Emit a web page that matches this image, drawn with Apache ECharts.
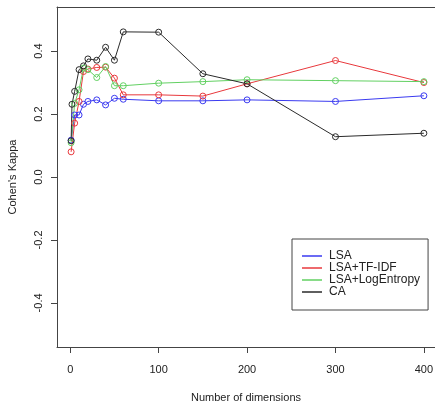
<!DOCTYPE html>
<html>
<head>
<meta charset="utf-8">
<script src="https://cdn.jsdelivr.net/npm/echarts@6/dist/echarts.min.js"></script>
<style>
html,body{margin:0;padding:0;background:#fff;}
#chart{width:435px;height:401px;}
</style>
</head>
<body>
<div id="chart"></div>
<script>
// x values (number of dimensions)
var dims = [1, 5, 10, 15, 20, 30, 40, 50, 60, 100, 150, 200, 300, 400];
var caDims = [1, 2, 5, 10, 15, 20, 30, 40, 50, 60, 100, 150, 200, 300, 400];
// Cohen's Kappa values
var lsa = [0.117, 0.197, 0.197, 0.231, 0.240, 0.245, 0.229, 0.250, 0.247, 0.242, 0.242, 0.245, 0.240, 0.258];
var lsaTfIdf = [0.080, 0.171, 0.240, 0.335, 0.343, 0.348, 0.349, 0.314, 0.261, 0.261, 0.257, 0.296, 0.370, 0.300];
var lsaLogEntropy = [0.109, 0.234, 0.277, 0.346, 0.341, 0.316, 0.351, 0.290, 0.290, 0.298, 0.303, 0.309, 0.306, 0.303];
var ca = [0.115, 0.231, 0.272, 0.341, 0.353, 0.375, 0.371, 0.412, 0.371, 0.461, 0.460, 0.328, 0.296, 0.128, 0.139];
// tick labels
var xTicks = [0, 100, 200, 300, 400];
var yTicks = [-0.4, -0.2, 0.0, 0.2, 0.4];
var seriesNames = ['LSA', 'LSA+TF-IDF', 'LSA+LogEntropy', 'CA'];

var colors = ['#3a3af0', '#e8383c', '#62d062', '#2a2a2a'];
var xs = [dims, dims, dims, caDims];
var ys = [lsa, lsaTfIdf, lsaLogEntropy, ca];

function pairs(x, y) { return x.map(function (v, i) { return [v, y[i]]; }); }

var series = seriesNames.map(function (n, k) {
  return {
    name: n,
    type: 'line',
    xAxisIndex: 0,
    yAxisIndex: 0,
    data: pairs(xs[k], ys[k]),
    symbol: 'circle',
    symbolSize: 6,
    showSymbol: true,
    lineStyle: { color: colors[k], width: 1 },
    itemStyle: { color: 'rgba(0,0,0,0)', borderColor: colors[k], borderWidth: 1 },
    emphasis: { disabled: true },
    animation: false
  };
});

var axisColor = '#444';
var chart = echarts.init(document.getElementById('chart'), null, { renderer: 'canvas' });
chart.setOption({
  animation: false,
  textStyle: { fontFamily: 'Liberation Sans, Arial, sans-serif' },
  grid: { left: 57, top: 7, width: 378, height: 340, show: false,
    outerBounds: { left: -200, right: -200, top: -200, bottom: -200 } },
  xAxis: [{
    type: 'value', min: -14.96, max: 412.57, position: 'bottom',
    name: 'Number of dimensions', nameLocation: 'middle', nameGap: 45,
    nameTextStyle: { fontSize: 11, color: '#222', fontFamily: 'Liberation Sans' },
    axisLine: { show: true, onZero: false, lineStyle: { color: axisColor, width: 1 } },
    axisTick: { show: true, customValues: xTicks, length: 6, lineStyle: { color: axisColor, width: 1 } },
    axisLabel: { customValues: xTicks, margin: 17, fontSize: 11, color: '#222', fontFamily: 'Liberation Sans' },
    splitLine: { show: false }
  }, {
    type: 'value', min: -14.96, max: 412.57, position: 'top',
    axisLine: { show: true, onZero: false, lineStyle: { color: axisColor, width: 1 } },
    axisTick: { show: false },
    axisLabel: { show: false },
    splitLine: { show: false }
  }],
  yAxis: {
    type: 'value', min: -0.54, max: 0.54, position: 'left',
    name: "Cohen's Kappa", nameLocation: 'middle', nameGap: 39, nameRotate: 90,
    nameTextStyle: { fontSize: 11, color: '#222', fontFamily: 'Liberation Sans' },
    axisLine: { show: true, onZero: false, lineStyle: { color: axisColor, width: 1 } },
    axisTick: { show: true, customValues: yTicks, length: 6, lineStyle: { color: axisColor, width: 1 } },
    axisLabel: { customValues: yTicks, rotate: 90, margin: 13, fontSize: 11, color: '#222', fontFamily: 'Liberation Sans',
      formatter: function (v) { return v.toFixed(1); } },
    splitLine: { show: false }
  },
  legend: {
    left: 292, top: 239, orient: 'vertical',
    backgroundColor: '#fff', borderColor: axisColor, borderWidth: 1,
    padding: [11, 8, 12, 10], itemGap: 0, itemWidth: 20, itemHeight: 1.5,
    textStyle: { fontSize: 12, color: '#222', lineHeight: 11, fontFamily: 'Liberation Sans', padding: [0, 0, 0, 2] },
    data: seriesNames.map(function (n, k) {
      return { name: n, icon: 'rect', itemStyle: { color: colors[k], borderWidth: 0 } };
    })
  },
  series: series
});
</script>
</body>
</html>
